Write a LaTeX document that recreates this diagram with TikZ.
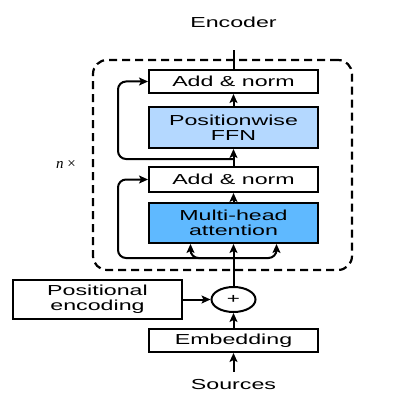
\documentclass[tikz,border=0pt]{standalone}
\usepackage{fontspec}
\setmainfont{Liberation Sans}[FakeStretch=1.6]
\newfontfamily\repfont{Liberation Serif}
\usetikzlibrary{arrows.meta,shapes.geometric}
\definecolor{attblue}{RGB}{95,185,255}
\definecolor{ffnblue}{RGB}{180,216,255}
\tikzset{
  txt/.style={font=\fontsize{14.5}{15}\selectfont},
  box/.style={draw, txt, line width=2pt, minimum width=169pt, inner sep=0pt, align=center},
  conn/.style={draw, line width=2pt, -{Stealth[length=9pt,width=8pt,inset=2pt]}},
}
\begin{document}
\begin{tikzpicture}[x=1pt,y=-1pt]
\useasboundingbox (0,0) rectangle (403,406);
\node[draw, line width=2.2pt, dash pattern=on 8pt off 5pt, rounded corners=14pt, minimum width=259pt, minimum height=210pt] (layer) at (222.5,165) {};
\node[txt] (enc) at (233.5,22) {Encoder};
\node[font=\repfont\fontsize{15}{15}\selectfont] (rep) at (66,164) {\textit{n} ×};
\node[box, minimum height=23pt] (add1) at (233.5,81.5) {Add \& norm};
\node[box, fill=ffnblue, minimum height=41pt] (ffn) at (233.5,127.5) {Positionwise\\FFN};
\node[box, minimum height=25pt] (add2) at (233.5,179.5) {Add \& norm};
\node[box, fill=attblue, minimum height=40pt] (att) at (233.5,223) {Multi-head\\attention};
\node[draw, ellipse, line width=2pt, minimum width=44pt, minimum height=25pt, inner sep=0pt, font=\fontsize{14}{14}\selectfont] (plus) at (233.5,299.5) {+};
\node[box, minimum height=39pt] (pos) at (97.5,299.5) {Positional\\encoding};
\node[box, minimum height=23pt] (emb) at (233.5,340.5) {Embedding};
\node[txt, inner sep=8pt] (src) at (233.5,385) {Sources};
\coordinate (out) at (233.5,50);
\coordinate (split1) at (233.5,258);
\coordinate (split2) at (233.5,159);
\path[conn] (src) -- (emb);
\path[conn] (emb) -- (plus);
\path[conn] (pos) -- (plus);
\path[conn] (plus) -- (att);
\path[conn, rounded corners=8pt] (split1) -| ([xshift=-43pt]att.south);
\path[conn, rounded corners=8pt] (split1) -| ([xshift=43pt]att.south);
\path[conn, rounded corners=8pt] (split1) -| ([xshift=-30pt]add2.west) -- (add2.west);
\path[conn] (att) -- (add2);
\path[conn] (add2) -- (ffn);
\path[conn, rounded corners=8pt] (split2) -| ([xshift=-30pt]add1.west) -- (add1.west);
\path[conn] (ffn) -- (add1);
\path[draw, line width=2pt] (add1) -- (out);
\end{tikzpicture}
\end{document}
